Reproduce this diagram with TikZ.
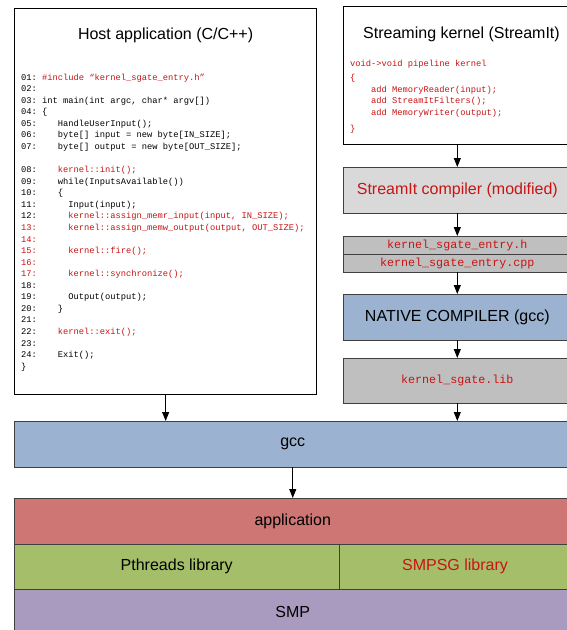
\documentclass[tikz,border=0pt]{standalone}
\usepackage{fontspec}
\setmainfont{Liberation Sans}
\setmonofont{Liberation Mono}
\usetikzlibrary{arrows.meta, positioning}
\definecolor{codered}{HTML}{C81414}
\definecolor{gccblue}{HTML}{9BB3D0}
\definecolor{compgray}{HTML}{D9D9D9}
\definecolor{filegray}{HTML}{BFBFBF}
\definecolor{appred}{HTML}{CD7674}
\definecolor{libgreen}{HTML}{A4BE6A}
\definecolor{smppurple}{HTML}{A99BBF}
\tikzset{
  layer/.style={
    rectangle, anchor=north west, inner sep=0pt, outer sep=0pt,
    draw=black!75, line width=0.75pt, align=center,
    font=\fontsize{16}{19}\selectfont,
  },
  srcbox/.style={layer, draw=black, fill=white},
  compbox/.style={layer, fill=compgray, text=codered},
  filebox/.style={layer, fill=filegray, text=codered,
    font=\fontsize{11.7}{14}\selectfont\ttfamily},
  gccbox/.style={layer, fill=gccblue},
  appbox/.style={layer, fill=appred},
  libbox/.style={layer, fill=libgreen},
  smpbox/.style={layer, fill=smppurple},
  title/.style={anchor=base, inner sep=0pt, font=\fontsize{16}{19}\selectfont},
  % first line carries a strut, so north sits 8.09pt above its baseline
  code/.style={anchor=north west, align=left, inner sep=0pt,
    font=\fontsize{8.75}{11.56}\selectfont\ttfamily},
  arr/.style={-{Triangle[length=9pt,width=7pt]}, line width=0.75pt},
}
\newcommand{\rd}[1]{\textcolor{codered}{#1}}

\begin{document}
\begin{tikzpicture}[x=1pt, y=-1pt]
\useasboundingbox (0,0) rectangle (567,630);
\clip (0,0) rectangle (567,630);

% ── host application (left column) ────────────────────────────────────
\node[srcbox, minimum width=302.3pt, minimum height=385.7pt] (host) at (14.5,8.3) {};
\node[title] (hosttitle) at (165.6,39.5) {Host application (C/C++)};
\node[code] (hostcode) at (21,71.9) {%
\strut 01: \rd{\#include “kernel\_sgate\_entry.h”}\\
02:\\
03: int main(int argc, char* argv[])\\
04: \{\\
05:~~~~HandleUserInput();\\
06:~~~~byte[] input = new byte[IN\_SIZE];\\
07:~~~~byte[] output = new byte[OUT\_SIZE];\\
~\\
08:~~~~\rd{kernel::init();}\\
09:~~~~while(InputsAvailable())\\
10:~~~~\{\\
11:~~~~~~Input(input);\\
12:~~~~~~\rd{kernel::assign\_memr\_input(input, IN\_SIZE);}\\
\rd{13:~~~~~~kernel::assign\_memw\_output(output, OUT\_SIZE);}\\
\rd{14:}\\
\rd{15:~~~~~~kernel::fire();}\\
\rd{16:}\\
\rd{17:~~~~~~kernel::synchronize();}\\
18:\\
19:~~~~~~Output(output);\\
20:~~~~\}\\
21:\\
22:~~~~\rd{kernel::exit();}\\
23:\\
24:~~~~Exit();\\
\}};

% ── streaming kernel (right column) ───────────────────────────────────
\node[srcbox, minimum width=227.4pt, minimum height=138pt] (kernel) at (343.6,6) {};
\node[title] (kerneltitle) at (461.5,38.5) {Streaming kernel (StreamIt)};
\node[code, text=codered] (kernelcode) at (350,58.6) {%
\strut void->void pipeline kernel\\[2pt]
\{\\
~~~~add MemoryReader(input);\\
~~~~add StreamItFilters();\\
~~~~add MemoryWriter(output);\\[4.5pt]
\}};

% ── kernel tool chain ─────────────────────────────────────────────────
\node[compbox, minimum width=227.4pt, minimum height=46pt, below=23pt of kernel] (sitc)
      {StreamIt compiler (modified)};
\node[filebox, minimum width=227.4pt, minimum height=18pt, below=23pt of sitc] (entryh)
      {kernel\_sgate\_entry.h};
\node[filebox, minimum width=227.4pt, minimum height=18pt, below=0pt of entryh] (entrycpp)
      {kernel\_sgate\_entry.cpp};
\node[gccbox, minimum width=227.4pt, minimum height=46pt, below=22pt of entrycpp] (native)
      {NATIVE COMPILER (gcc)};
\node[filebox, minimum width=227.4pt, minimum height=45pt, below=18pt of native] (lib)
      {kernel\_sgate.lib};

% ── build and run-time stack ──────────────────────────────────────────
\node[gccbox, minimum width=556.5pt, minimum height=46pt] (gcc) at (14.5,421) {gcc};
\node[appbox, minimum width=556.5pt, minimum height=46pt] (app) at (14.5,498) {application};
\node[libbox, minimum width=324.5pt, minimum height=45pt] (pthreads) at (14.5,544) {Pthreads library};
\node[libbox, text=codered, minimum width=232pt, minimum height=45pt] (smpsg) at (339,544) {SMPSG library};
\node[smpbox, minimum width=556.5pt, minimum height=46pt] (smp) at (14.5,589) {SMP};

% ── arrows ────────────────────────────────────────────────────────────
\draw[arr] (kernel) -- (sitc);
\draw[arr] (sitc) -- (entryh);
\draw[arr] (entrycpp) -- (native);
\draw[arr] (native) -- (lib);
\draw[arr] (lib.south) -- (lib.south |- gcc.north);
\draw[arr] (host.south) -- (host.south |- gcc.north);
\draw[arr] (gcc) -- (app);

\end{tikzpicture}
\end{document}
